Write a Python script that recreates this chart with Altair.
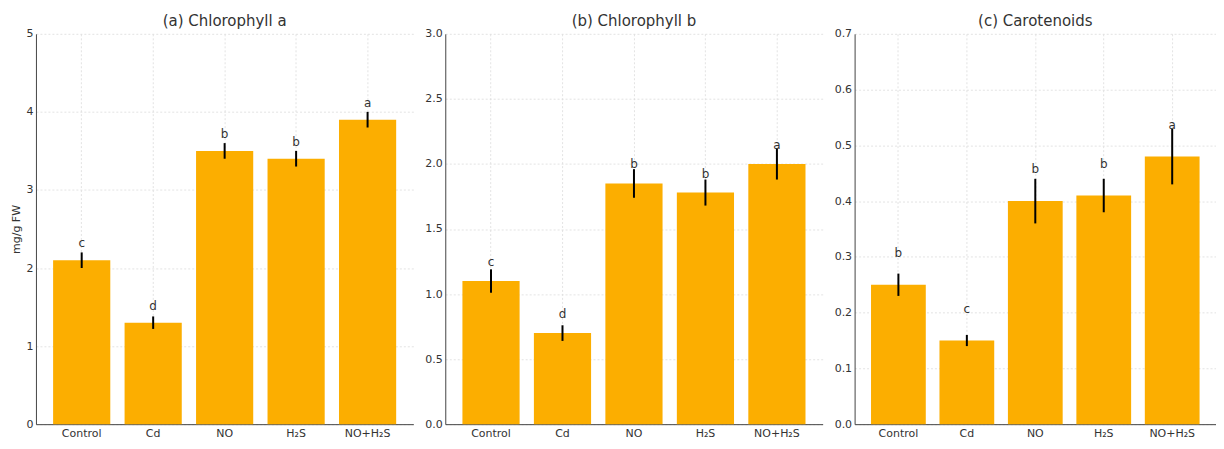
import altair as alt
import pandas as pd

categories = ["Control", "Cd", "NO", "H₂S", "NO+H₂S"]

chl_a = [2.1, 1.3, 3.5, 3.4, 3.9]
chl_a_err = [0.1, 0.08, 0.1, 0.1, 0.1]
chl_a_letters = ["c", "d", "b", "b", "a"]

chl_b = [1.1, 0.7, 1.85, 1.78, 2.0]
chl_b_err = [0.09, 0.06, 0.11, 0.1, 0.12]
chl_b_letters = ["c", "d", "b", "b", "a"]

car = [0.25, 0.15, 0.40, 0.41, 0.48]
car_err = [0.02, 0.01, 0.04, 0.03, 0.05]
car_letters = ["b", "c", "b", "b", "a"]

ticks_a = [0, 1, 2, 3, 4, 5]
ticks_b = [0.0, 0.5, 1.0, 1.5, 2.0, 2.5, 3.0]
ticks_c = [0.0, 0.1, 0.2, 0.3, 0.4, 0.5, 0.6, 0.7]

BAR = "#FCAE00"
FONT = "DejaVu Sans"
H = 391


def panel(title, vals, errs, letters, ticks, fmt, ytitle, dy, width):
    df = pd.DataFrame({"cat": categories, "v": vals, "e": errs, "lab": letters})
    df["lo"] = df["v"] - df["e"]
    df["hi"] = df["v"] + df["e"]
    x = alt.X(
        "cat:N",
        sort=categories,
        title=None,
        scale=alt.Scale(paddingInner=0.2, paddingOuter=0.24),
        axis=alt.Axis(labelAngle=0, bandPosition=0.5, grid=True),
    )
    yscale = alt.Scale(domain=[ticks[0], ticks[-1]], nice=False, zero=True)
    yaxis = alt.Axis(values=ticks, format=fmt, grid=True)
    base = alt.Chart(df)
    bars = base.mark_bar(color=BAR).encode(
        x=x, y=alt.Y("v:Q", scale=yscale, axis=yaxis, title=ytitle)
    )
    err = base.mark_rule(color="black", strokeWidth=2).encode(
        x=x,
        y=alt.Y("lo:Q", scale=yscale, axis=yaxis, title=ytitle),
        y2="hi:Q",
    )
    txt = base.mark_text(
        font=FONT, fontSize=12, color="#333", baseline="middle", dy=-dy
    ).encode(
        x=x,
        y=alt.Y("v:Q", scale=yscale, axis=yaxis, title=ytitle),
        text="lab:N",
    )
    return alt.layer(bars, err, txt).properties(
        width=width, height=H, title=title
    )


pa = panel("(a) Chlorophyll a", chl_a, chl_a_err, chl_a_letters, ticks_a, "d", "mg/g FW", 17, 378)
pb = panel("(b) Chlorophyll b", chl_b, chl_b_err, chl_b_letters, ticks_b, ".1f", None, 19, 378)
pc = panel("(c) Carotenoids", car, car_err, car_letters, ticks_c, ".1f", None, 32, 362)

chart = (
    alt.hconcat(pa, pb, pc, spacing=11)
    .configure(padding={"left": 3, "top": 5.5, "right": 0, "bottom": 0})
    .configure_view(strokeWidth=0)
    .configure_axis(
        domainColor="#444",
        domainWidth=1,
        labelColor="#333",
        labelFont=FONT,
        labelFontSize=11,
        tickSize=0,
        labelPadding=3,
        gridColor="#dcdcdc",
        gridDash=[2, 2],
        gridWidth=0.8,
        titleFont=FONT,
        titleFontSize=11,
        titleFontWeight="normal",
        titleColor="#333",
        titlePadding=4,
    )
    .configure_title(
        font=FONT, fontSize=15, fontWeight="normal", color="#333", offset=-1, anchor="middle"
    )
)

chart.save("out.html", embed_options={"renderer": "svg", "actions": False})
